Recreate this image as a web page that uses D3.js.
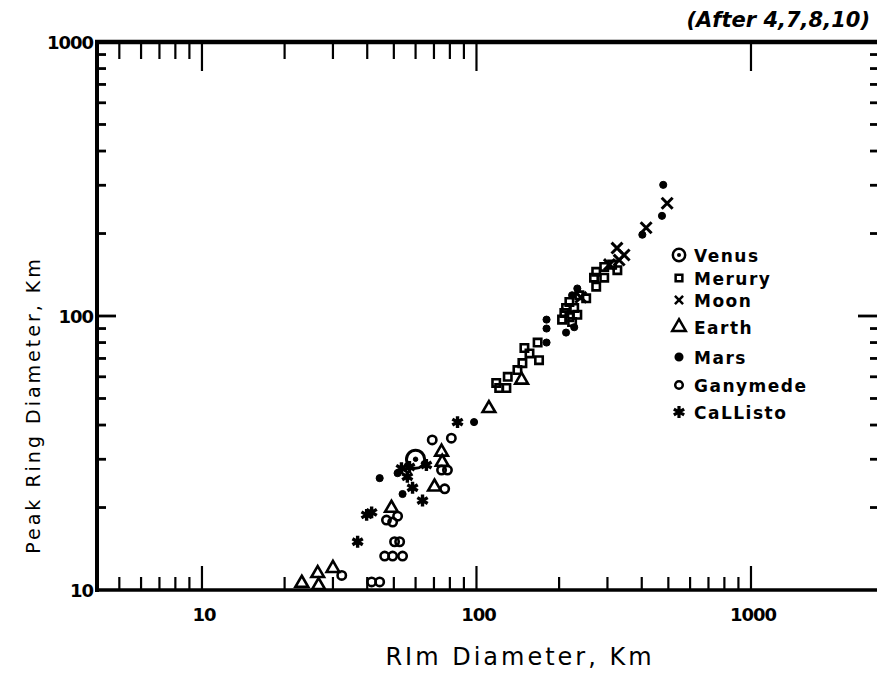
<!DOCTYPE html>
<html>
<head>
<meta charset="utf-8">
<script src="https://cdn.jsdelivr.net/npm/d3@7"></script>
<style>
  body { margin: 0; background: #fff; }
  text { font-family: "DejaVu Sans", sans-serif; fill: #000; }
</style>
</head>
<body>
<div id="chart"></div>
<script>
// rim diameter, peak ring diameter (km)
var venus = [[60, 30]];
var mercury = [[118, 57], [121, 54.6], [128.5, 54.6], [130, 60], [141, 63.5], [147, 67.3],
  [149.5, 76.4], [156, 73], [167, 80], [169, 69], [205, 97], [209, 102.5], [212, 107],
  [218, 99], [223, 95], [227, 107], [233, 101], [218, 112.5], [237, 119], [251, 116],
  [273, 128], [268, 138], [273, 145], [292, 138], [292, 151], [312, 154], [326, 147]];
var moon = [[495, 258], [415, 210], [325, 177], [345, 167], [331, 160], [305, 154], [240, 117]];
var earth = [[111, 46], [146, 58.4], [74.6, 31.9], [75, 29.3], [70.3, 23.8], [49, 19.9],
  [23.1, 10.6], [26.4, 11.5], [30, 12], [26.6, 10.4]];
var mars = [[479, 301], [474, 232], [402, 198], [233, 126], [223, 119], [212, 87], [227, 91],
  [180, 97], [180, 90], [180, 80], [98, 41], [44.4, 25.6], [51.6, 26.7], [53.8, 22.4]];
var ganymede = [[69, 35.3], [81, 35.8], [74.6, 27.4], [78.4, 27.4], [76.6, 23.4], [47, 18],
  [49.5, 17.7], [51.6, 18.6], [50.3, 15], [52.5, 15], [46.3, 13.3], [49.5, 13.3], [53.8, 13.3],
  [32.3, 11.3], [41.5, 10.7], [44.4, 10.7]];
var callisto = [[36.9, 15], [39.8, 18.8], [41.5, 19.2], [53.3, 27.8], [56, 25.9], [65.7, 28.6],
  [63.6, 21.2], [58.5, 23.6], [85.3, 41], [57, 28.1]];

var legendNames = ["Venus", "Merury", "Moon", "Earth", "Mars", "Ganymede", "CaLListo"];
var legendRows = [255, 278, 300, 327, 357, 385, 412];
var xTickLabels = [10, 100, 1000];
var yTickLabels = [10, 100, 1000];

var svg = d3.select("#chart")
  .append("svg")
  .attr("width", 877)
  .attr("height", 673);

var x = d3.scaleLog().domain([4.146, 2902]).range([97, 878]);
var y = d3.scaleLog().domain([10, 1000]).range([590, 42]);

// minor tick values
var minorX = [5, 6, 7, 8, 9, 20, 30, 40, 50, 60, 70, 80, 90];
var minorXBottom = minorX.concat([200, 300, 400, 500, 600, 700, 800, 900]);
var minorY = [20, 30, 40, 50, 60, 70, 80, 90, 200, 300, 400, 500, 600, 700, 800, 900];

// frame
svg.append("line").attr("x1", 95).attr("x2", 877).attr("y1", 42).attr("y2", 42)
  .attr("stroke", "#000").attr("stroke-width", 4.5);
svg.append("line").attr("x1", 95).attr("x2", 877).attr("y1", 590).attr("y2", 590)
  .attr("stroke", "#000").attr("stroke-width", 3.5);
svg.append("line").attr("x1", 97).attr("x2", 97).attr("y1", 40).attr("y2", 592)
  .attr("stroke", "#000").attr("stroke-width", 4);

// bottom ticks
svg.selectAll(".bt").data(minorXBottom).enter().append("line")
  .attr("x1", d => x(d)).attr("x2", d => x(d))
  .attr("y1", 590).attr("y2", 577)
  .attr("stroke", "#000").attr("stroke-width", 2.2);
svg.selectAll(".btM").data(xTickLabels).enter().append("line")
  .attr("x1", d => x(d)).attr("x2", d => x(d))
  .attr("y1", 590).attr("y2", 566)
  .attr("stroke", "#000").attr("stroke-width", 2.2);

// top ticks
svg.selectAll(".tt").data(minorX).enter().append("line")
  .attr("x1", d => x(d)).attr("x2", d => x(d))
  .attr("y1", 42).attr("y2", 59)
  .attr("stroke", "#000").attr("stroke-width", 2.2);
svg.selectAll(".ttM").data(xTickLabels).enter().append("line")
  .attr("x1", d => x(d)).attr("x2", d => x(d))
  .attr("y1", 42).attr("y2", 71)
  .attr("stroke", "#000").attr("stroke-width", 2.2);

// left ticks
svg.selectAll(".lt").data(minorY).enter().append("line")
  .attr("x1", 97).attr("x2", 106)
  .attr("y1", d => y(d)).attr("y2", d => y(d))
  .attr("stroke", "#000").attr("stroke-width", 2.8);
svg.append("line").attr("x1", 97).attr("x2", 116)
  .attr("y1", y(100)).attr("y2", y(100))
  .attr("stroke", "#000").attr("stroke-width", 2.8);

// right ticks (frame line itself is just off the picture)
svg.selectAll(".rt").data(minorY).enter().append("line")
  .attr("x1", 870).attr("x2", 877)
  .attr("y1", d => y(d)).attr("y2", d => y(d))
  .attr("stroke", "#000").attr("stroke-width", 2.8);
svg.append("line").attr("x1", 858).attr("x2", 877)
  .attr("y1", y(100)).attr("y2", y(100))
  .attr("stroke", "#000").attr("stroke-width", 2.8);

// tick labels
svg.selectAll(".xl").data(xTickLabels).enter().append("text")
  .attr("x", d => x(d) + 2).attr("y", 621)
  .attr("text-anchor", "middle")
  .style("font-size", "18px").style("font-weight", "bold").style("letter-spacing", "-1px")
  .text(d => d);
svg.selectAll(".yl").data(yTickLabels).enter().append("text")
  .attr("x", 93).attr("y", d => y(d) + 7)
  .attr("text-anchor", "end")
  .style("font-size", "18px").style("font-weight", "bold").style("letter-spacing", "-1px")
  .text(d => d);

// titles
svg.append("text").attr("x", 870).attr("y", 27).attr("text-anchor", "end")
  .style("font-size", "21px").style("font-style", "italic").style("font-weight", "bold")
  .text("(After 4,7,8,10)");
svg.append("text").attr("x", 520).attr("y", 665).attr("text-anchor", "middle")
  .style("font-size", "24px").style("letter-spacing", "3px")
  .text("RIm Diameter, Km");
svg.append("text")
  .attr("transform", "translate(40,405) rotate(-90)")
  .attr("text-anchor", "middle")
  .style("font-size", "19px").style("letter-spacing", "3px")
  .text("Peak Ring Diameter, Km");

// marks
function plot(data, type, size, filled, sw) {
  svg.append("g").selectAll("path").data(data).enter().append("path")
    .attr("transform", d => "translate(" + x(d[0]) + "," + y(d[1]) + ")")
    .attr("d", d3.symbol().type(type).size(size))
    .attr("fill", filled ? "#000" : "none")
    .attr("stroke", "#000")
    .attr("stroke-width", sw);
}

plot(mercury, d3.symbolSquare, 55, false, 2.6);
plot(moon, d3.symbolTimes, 80, false, 3);
plot(earth, d3.symbolTriangle, 70, false, 2.6);
plot(mars, d3.symbolCircle, 40, true, 1);
plot(ganymede, d3.symbolCircle, 55, false, 2.6);
plot(callisto, d3.symbolAsterisk, 100, false, 3.4);
plot(venus, d3.symbolCircle, 260, false, 3);
plot(venus, d3.symbolCircle, 16, true, 1);

// legend
var legendTypes = [d3.symbolCircle, d3.symbolSquare, d3.symbolTimes, d3.symbolTriangle,
  d3.symbolCircle, d3.symbolCircle, d3.symbolAsterisk];
var legendSizes = [120, 45, 45, 80, 34, 45, 100];
var legendFill = [false, false, false, false, true, false, false];
var lg = svg.append("g");
legendNames.forEach(function (name, i) {
  lg.append("path")
    .attr("transform", "translate(679," + legendRows[i] + ")")
    .attr("d", d3.symbol().type(legendTypes[i]).size(legendSizes[i]))
    .attr("fill", legendFill[i] ? "#000" : "none")
    .attr("stroke", "#000")
    .attr("stroke-width", i == 6 ? 3.2 : 2.5);
  if (i == 0) {
    lg.append("circle").attr("cx", 679).attr("cy", legendRows[i]).attr("r", 2).attr("fill", "#000");
  }
  lg.append("text")
    .attr("x", 694).attr("y", legendRows[i] + 7)
    .style("font-size", "17px").style("font-weight", "bold").style("letter-spacing", "1.5px")
    .text(name);
});
</script>
</body>
</html>
